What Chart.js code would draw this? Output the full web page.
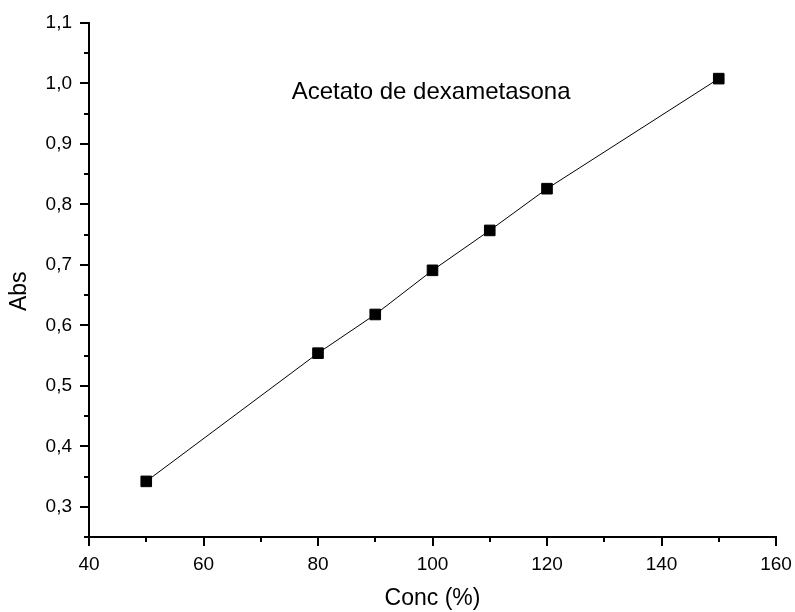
<!DOCTYPE html>
<html>
<head>
<meta charset="utf-8">
<script src="https://cdn.jsdelivr.net/npm/chart.js@4.4.1/dist/chart.umd.min.js"></script>
<style>
html,body{margin:0;padding:0;background:#fff;}
#wrap{width:795px;height:612px;}
</style>
</head>
<body>
<div id="wrap"><canvas id="c" width="795" height="612"></canvas></div>
<script>
const concentrations = [50, 80, 90, 100, 110, 120, 150];
const absorbance = [0.342, 0.554, 0.618, 0.691, 0.757, 0.826, 1.008];
const xTickValues = [40, 60, 80, 100, 120, 140, 160];
const yTickValues = [0.3, 0.4, 0.5, 0.6, 0.7, 0.8, 0.9, 1.0, 1.1];
const chartLabel = 'Acetato de dexametasona';
const xTitle = 'Conc (%)';
const yTitle = 'Abs';

const FONT = "'Liberation Sans', Arial, sans-serif";

const minorTicks = {
  id: 'minorTicks',
  afterDraw(chart) {
    const ctx = chart.ctx;
    const xs = chart.scales.x, ys = chart.scales.y;
    ctx.save();
    ctx.strokeStyle = '#000';
    ctx.lineWidth = 2;
    ctx.beginPath();
    for (let i = 0; i < xTickValues.length - 1; i++) {
      const v = (xTickValues[i] + xTickValues[i + 1]) / 2;
      const px = Math.round(xs.getPixelForValue(v));
      ctx.moveTo(px, xs.top);
      ctx.lineTo(px, xs.top + 5);
    }
    const yMinor = [ys.min];
    for (let i = 0; i < yTickValues.length - 1; i++) {
      yMinor.push((yTickValues[i] + yTickValues[i + 1]) / 2);
    }
    yMinor.forEach(v => {
      const py = Math.round(ys.getPixelForValue(v));
      ctx.moveTo(ys.right, py);
      ctx.lineTo(ys.right - 5, py);
    });
    ctx.stroke();
    const ca = chart.chartArea;
    ctx.fillStyle = '#000';
    ctx.font = '24px ' + FONT;
    ctx.textAlign = 'center';
    ctx.textBaseline = 'middle';
    ctx.fillText(chartLabel, ca.left + (ca.right - ca.left) * 0.498, ca.top + (ca.bottom - ca.top) * 0.134);
    ctx.save();
    ctx.font = '23px ' + FONT;
    ctx.translate(20, ca.top + (ca.bottom - ca.top) * 0.522);
    ctx.rotate(-Math.PI / 2);
    ctx.fillText(yTitle, 0, 0);
    ctx.restore();
    ctx.restore();
  }
};

new Chart(document.getElementById('c'), {
  type: 'line',
  data: {
    datasets: [{
      data: concentrations.map((x, i) => ({x, y: absorbance[i]})),
      borderColor: '#000',
      borderWidth: 1,
      backgroundColor: '#000',
      pointStyle: 'rect',
      pointRadius: 7.5,
      pointBorderWidth: 1,
      pointBackgroundColor: '#000',
      pointBorderColor: '#000',
      tension: 0,
      fill: false
    }]
  },
  options: {
    responsive: false,
    animation: false,
    events: [],
    layout: {padding: {top: 23, right: 19, left: 0, bottom: 0}},
    plugins: {legend: {display: false}, tooltip: {enabled: false}, title: {display: false}},
    scales: {
      x: {
        type: 'linear',
        min: 40, max: 160,
        afterFit: s => { s.height = 75; s.paddingLeft = 0; s.paddingRight = 0; },
        afterBuildTicks: s => { s.ticks = xTickValues.map(v => ({value: v})); },
        ticks: {color: '#000', font: {family: FONT, size: 19}, padding: 7,
                callback: v => String(v)},
        grid: {display: true, drawOnChartArea: false, drawTicks: true, tickLength: 9, color: '#000', lineWidth: 2},
        border: {display: true, color: '#000', width: 2},
        title: {display: true, text: xTitle, color: '#000', font: {family: FONT, size: 23}, padding: {top: 2, bottom: 0}}
      },
      y: {
        type: 'linear',
        min: 0.25, max: 1.1,
        afterFit: s => { s.width = 89; s.paddingTop = 0; s.paddingBottom = 0; },
        afterBuildTicks: s => { s.ticks = yTickValues.map(v => ({value: v})); },
        ticks: {color: '#000', font: {family: FONT, size: 19}, padding: 8,
                callback: v => Number(v).toFixed(1).replace('.', ',')},
        grid: {display: true, drawOnChartArea: false, drawTicks: true, tickLength: 9, color: '#000', lineWidth: 2},
        border: {display: true, color: '#000', width: 2},
        title: {display: false}
      }
    }
  },
  plugins: [minorTicks]
});
</script>
</body>
</html>
